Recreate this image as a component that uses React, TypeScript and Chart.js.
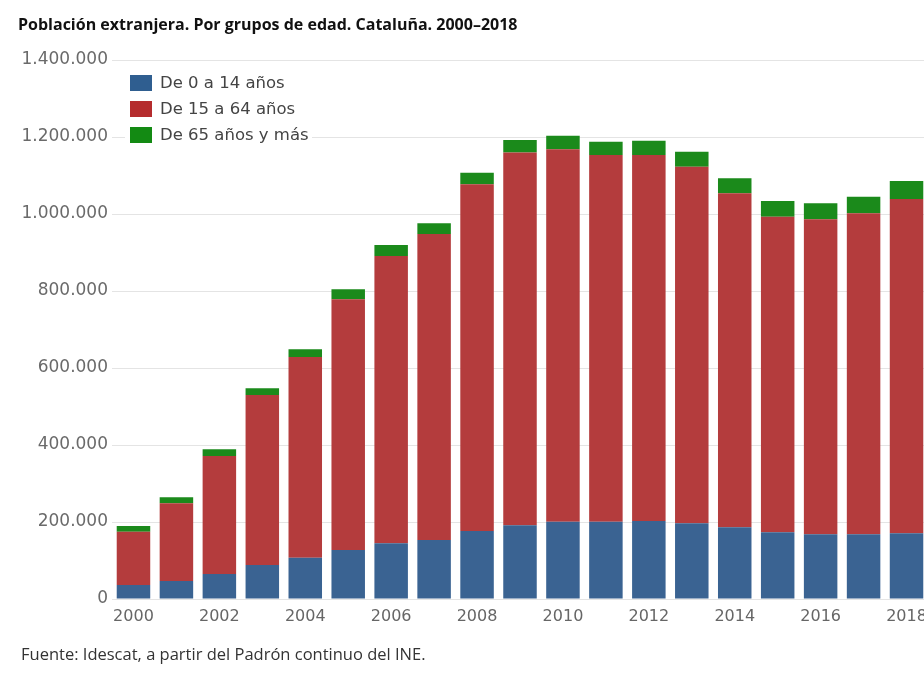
import React, { useEffect, useRef } from 'react';
import { Chart, registerables } from 'chart.js';

Chart.register(...registerables);

const years = ['2000', '2001', '2002', '2003', '2004', '2005', '2006', '2007', '2008', '2009', '2010', '2011', '2012', '2013', '2014', '2015', '2016', '2017', '2018'];

const age0to14 = [36400, 46800, 64900, 88300, 107300, 127300, 144700, 153200, 176600, 191700, 200800, 200800, 202600, 196600, 186200, 173200, 168100, 168100, 170600];
const age15to64 = [138400, 201800, 306500, 441600, 521300, 651200, 746200, 794800, 900500, 968000, 967300, 952500, 950700, 926300, 867600, 819800, 818100, 833700, 868400];
const age65plus = [14800, 15600, 17400, 17400, 20400, 25900, 28600, 27800, 30200, 32500, 35300, 34500, 37100, 38900, 38900, 40800, 41600, 43200, 46700];

const seriesLabels = ['De 0 a 14 años', 'De 15 a 64 años', 'De 65 años y más'];

const titleText = 'Población extranjera. Por grupos de edad. Cataluña. 2000–2018';
const sourceText = 'Fuente: Idescat, a partir del Padrón continuo del INE.';

const yMax = 1400000;
const yStep = 200000;

const fmt = (v: number) => String(Math.round(v)).replace(/\B(?=(\d{3})+(?!\d))/g, '.');

const insideLegend = {
  id: 'insideLegend',
  afterDatasetsDraw(chart: any) {
    const ctx = chart.ctx;
    const { left, top } = chart.chartArea;
    ctx.save();
    ctx.fillStyle = '#ffffff';
    ctx.fillRect(left + 13, top + 6, 187, 80);
    ctx.font = '16.5px "DejaVu Sans", Verdana, sans-serif';
    ctx.textBaseline = 'middle';
    ctx.textAlign = 'left';
    chart.data.datasets.forEach((ds: any, i: number) => {
      const cy = top + 23 + i * 26;
      ctx.fillStyle = ds.legendColor;
      ctx.fillRect(left + 18, cy - 8, 22, 16);
      ctx.fillStyle = '#444444';
      ctx.fillText(ds.label, left + 48, cy + 1);
    });
    ctx.restore();
  },
};

export default function App() {
  const canvasRef = useRef<HTMLCanvasElement | null>(null);

  useEffect(() => {
    const canvas = canvasRef.current;
    if (!canvas) return;
    const family = '"DejaVu Sans", Verdana, sans-serif';
    const chart = new Chart(canvas, {
      type: 'bar',
      data: {
        labels: years,
        datasets: [
          {
            label: seriesLabels[0],
            data: age0to14,
            backgroundColor: '#3a6392',
            legendColor: '#2f5e90',
            borderWidth: 0,
          } as any,
          {
            label: seriesLabels[1],
            data: age15to64,
            backgroundColor: '#b43c3d',
            legendColor: '#b52c2e',
            borderWidth: 0,
          },
          {
            label: seriesLabels[2],
            data: age65plus,
            backgroundColor: '#1b8a1b',
            legendColor: '#138a13',
            borderWidth: 0,
          },
        ],
      },
      options: {
        responsive: false,
        animation: false,
        devicePixelRatio: 1,
        layout: { padding: { top: 52, right: 10, left: 0, bottom: 0 } },
        plugins: {
          legend: { display: false },
          tooltip: { enabled: false },
        },
        datasets: {
          bar: { barPercentage: 0.78, categoryPercentage: 1 },
        },
        scales: {
          x: {
            stacked: true,
            grid: { display: false, drawTicks: false },
            border: { display: false },
            ticks: {
              autoSkip: false,
              maxRotation: 0,
              minRotation: 0,
              padding: 8,
              color: '#666666',
              font: { family, size: 16 },
              callback: (_v: any, i: number) => (i % 2 === 0 ? years[i] : ''),
            },
            afterFit: (scale: any) => {
              scale.height = 49;
            },
          },
          y: {
            stacked: true,
            min: 0,
            max: yMax,
            grid: { color: '#e4e4e4', lineWidth: 1, drawTicks: false },
            border: { display: false },
            ticks: {
              stepSize: yStep,
              padding: 4,
              color: '#6a6a6a',
              font: { family, size: 17 },
              callback: (v: any) => fmt(Number(v)),
            },
            afterFit: (scale: any) => {
              scale.width = 104;
            },
          },
        },
      } as any,
      plugins: [insideLegend],
    });
    return () => chart.destroy();
  }, []);

  return (
    <div style={{ position: 'fixed', left: 0, top: 0, width: 924, height: 691, overflow: 'hidden', background: '#fff' }}>
      <canvas ref={canvasRef} width={930} height={640} style={{ position: 'absolute', left: 8, top: 8, display: 'block' }} />
      <div
        style={{
          position: 'absolute',
          left: 18,
          top: 16,
          fontFamily: '"Open Sans", sans-serif',
          fontWeight: 700,
          fontSize: 16,
          lineHeight: '17px',
          color: '#111',
          whiteSpace: 'nowrap',
        }}
      >
        {titleText}
      </div>
      <div
        style={{
          position: 'absolute',
          left: 21,
          top: 645,
          fontFamily: '"Open Sans", sans-serif',
          fontSize: 16.5,
          lineHeight: '17px',
          color: '#333',
          whiteSpace: 'nowrap',
        }}
      >
        {sourceText}
      </div>
    </div>
  );
}
